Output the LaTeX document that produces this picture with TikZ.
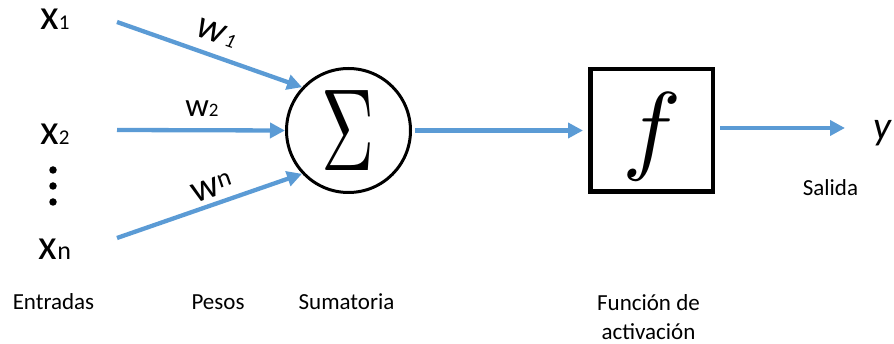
\documentclass[tikz,border=0pt]{standalone}
\usepackage[no-math]{fontspec}
\setmainfont{Carlito}
\usetikzlibrary{arrows.meta}
\definecolor{arrowblue}{RGB}{91,155,213}
\tikzset{
  conn/.style={draw=arrowblue, line width=4.3pt, -{Triangle[length=15pt,width=15pt]}},
  lbl/.style={font=\fontsize{23}{29}\selectfont, inner sep=0, align=center, anchor=base},
  var/.style={font=\fontsize{43}{43}\selectfont, inner sep=0, anchor=base, text height=20pt},
  wlbl/.style={inner sep=0},
  dot/.style={circle, fill=black, inner sep=0, minimum size=7.5pt},
}
\newcommand{\subsz}[2]{{\fontsize{#1}{#1}\selectfont #2}}
\begin{document}
\begin{tikzpicture}[x=1pt,y=1pt]
\useasboundingbox (0,0) rectangle (894,-344);
% inputs
\node[var] (x1) at (55,-30) {x\subsz{21}{1}};
\node[var] (x2) at (55,-145) {x\subsz{21}{2}};
\node[var] (xn) at (55,-260) {x\subsz{26}{n}};
\node[dot] (d1) at (53,-170) {};
\node[dot] (d2) at (53,-186) {};
\node[dot] (d3) at (53,-202) {};
% summation
\node[circle, draw, line width=3pt, minimum size=124pt, inner sep=0] (sum) at (348.5,-130.5) {\scalebox{7.34}[11.7]{$\Sigma$}};
% activation box
\node[rectangle, draw, line width=4.5pt, minimum size=122.5pt, inner sep=0] (fbox) at (651.5,-130.5) {};
\node[inner sep=0] (ftxt) at (652,-137) {\scalebox{9.9}{$f$}};
% connector ends
\coordinate (s1) at (117,-22);
\coordinate (s2) at (117,-130);
\coordinate (sn) at (117,-238);
\coordinate (yend) at (845,-128);
\draw[conn] (s1) -- (sum.137);
\draw[conn] (s2) -- (sum.west);
\draw[conn] (sn) -- (sum.223);
\draw[conn, shorten <=3pt, shorten >=5pt] (sum.east) -- (fbox.west);
\draw[conn, shorten <=5pt] ([yshift=2.5pt]fbox.east) -- (yend);
% weights
\node[wlbl, rotate=-19] (w1) at (217,-33) {\itshape\subsz{40}{w}\kern1.5pt\subsz{20}{1}};
\node[wlbl, anchor=base] (w2) at (202,-117) {\subsz{33}{w}\subsz{19}{2}};
\node[wlbl, rotate=19] (wn) at (212,-188) {\subsz{39}{w}\raisebox{6pt}{\subsz{26}{n}}};
% output
\node[var, anchor=base west, font=\fontsize{40}{40}\selectfont\itshape] (y) at (873,-140) {y};
% labels
\node[lbl] (salida) at (830.5,-196) {Salida};
\node[lbl] (entradas) at (53.5,-310) {Entradas};
\node[lbl] (pesos) at (218,-310) {Pesos};
\node[lbl] (sumatoria) at (346.5,-310) {Sumatoria};
\node[lbl, text depth=0pt] (funcion) at (648.5,-340) {Función de\\activación};
\end{tikzpicture}
\end{document}
